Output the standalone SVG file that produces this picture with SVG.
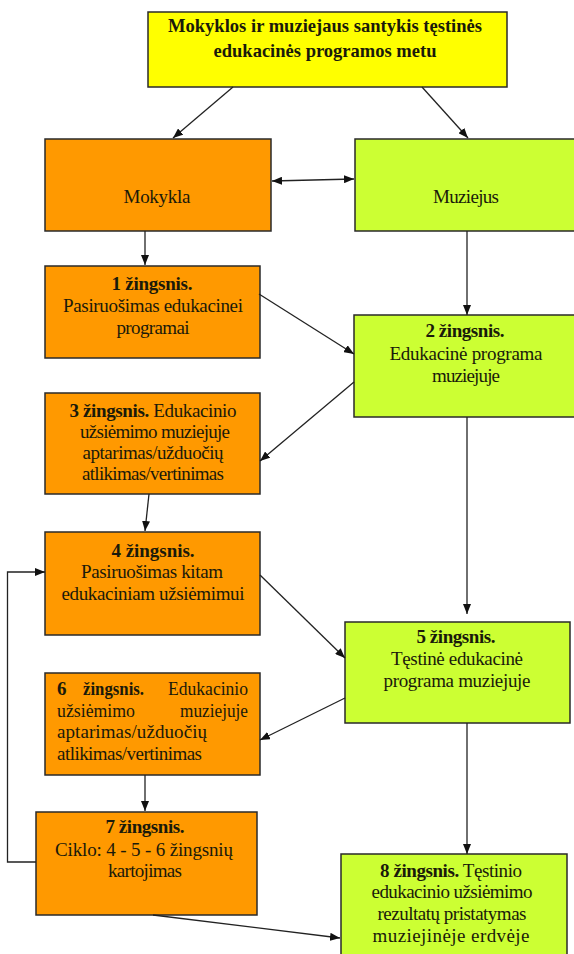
<svg xmlns="http://www.w3.org/2000/svg" width="574" height="954" viewBox="0 0 574 954">
<style>
  .box{stroke:#2a2a2a;stroke-width:1.5}
  .yel{fill:#FFFF00}
  .org{fill:#FF9900}
  .grn{fill:#CCFF33}
  text{font-family:"Liberation Serif","Times New Roman",serif;font-size:19px;fill:#1a1a0a}
  .c{text-anchor:middle}
  .e{text-anchor:end}
  .b{font-weight:bold}
  .ln{stroke:#222;stroke-width:1.3;fill:none}
</style>
<defs>
  <marker id="ah" markerUnits="userSpaceOnUse" markerWidth="10" markerHeight="8" refX="10" refY="4" orient="auto-start-reverse" viewBox="0 0 10 8">
    <path d="M0,0 L10,4 L0,8 z" fill="#111"/>
  </marker>
</defs>

<g id="title">
  <rect class="box yel" x="148" y="12" width="359" height="75"/>
  <text class="c b" x="325" y="32" textLength="314" lengthAdjust="spacingAndGlyphs">Mokyklos ir muziejaus santykis tęstinės</text>
  <text class="c b" x="325" y="57" textLength="223" lengthAdjust="spacingAndGlyphs">edukacinės programos metu</text>
</g>

<g id="mokykla">
  <rect class="box org" x="45" y="139" width="226" height="92"/>
  <text class="c" x="157" y="203" textLength="67" lengthAdjust="spacing">Mokykla</text>
</g>

<g id="muziejus">
  <rect class="box grn" x="355" y="139" width="222" height="92"/>
  <text class="c" x="466" y="203" textLength="66" lengthAdjust="spacing">Muziejus</text>
</g>

<g id="step1">
  <rect class="box org" x="45" y="266" width="215" height="92"/>
  <text class="c b" x="152" y="290" textLength="81" lengthAdjust="spacing">1 žingsnis.</text>
  <text class="c" x="153" y="312" textLength="180" lengthAdjust="spacing">Pasiruošimas edukacinei</text>
  <text class="c" x="153" y="334" textLength="73" lengthAdjust="spacing">programai</text>
</g>

<g id="step2">
  <rect class="box grn" x="354" y="315" width="223" height="102"/>
  <text class="c b" x="465" y="337" textLength="79" lengthAdjust="spacing">2 žingsnis.</text>
  <text class="c" x="466" y="360" textLength="153" lengthAdjust="spacing">Edukacinė programa</text>
  <text class="c" x="466" y="382" textLength="68" lengthAdjust="spacing">muziejuje</text>
</g>

<g id="step3">
  <rect class="box org" x="45" y="393" width="215" height="101"/>
  <text class="c" x="153" y="417" textLength="167" lengthAdjust="spacing"><tspan class="b">3 žingsnis.</tspan> Edukacinio</text>
  <text class="c" x="155" y="438" textLength="150" lengthAdjust="spacing">užsiėmimo muziejuje</text>
  <text class="c" x="153" y="459" textLength="141" lengthAdjust="spacing">aptarimas/užduočių</text>
  <text class="c" x="153" y="480" textLength="142" lengthAdjust="spacing">atlikimas/vertinimas</text>
</g>

<g id="step4">
  <rect class="box org" x="45" y="532" width="215" height="103"/>
  <text class="c b" x="153" y="557" textLength="83" lengthAdjust="spacing">4 žingsnis.</text>
  <text class="c" x="152" y="578" textLength="142" lengthAdjust="spacing">Pasiruošimas kitam</text>
  <text class="c" x="153" y="600" textLength="183" lengthAdjust="spacing">edukaciniam užsiėmimui</text>
</g>

<g id="step5">
  <rect class="box grn" x="345" y="622" width="225" height="101"/>
  <text class="c b" x="456" y="643" textLength="79" lengthAdjust="spacing">5 žingsnis.</text>
  <text class="c" x="457" y="665" textLength="132" lengthAdjust="spacing">Tęstinė edukacinė</text>
  <text class="c" x="457" y="687" textLength="147" lengthAdjust="spacing">programa muziejuje</text>
</g>

<g id="step6">
  <rect class="box org" x="45" y="673" width="215" height="102"/>
  <text class="b" x="57" y="695">6</text>
  <text class="b" x="83" y="695" textLength="61" lengthAdjust="spacingAndGlyphs">žingsnis.</text>
  <text class="e" x="248" y="695" textLength="80" lengthAdjust="spacingAndGlyphs">Edukacinio</text>
  <text x="57" y="717" textLength="78" lengthAdjust="spacingAndGlyphs">užsiėmimo</text>
  <text class="e" x="248" y="717" textLength="68" lengthAdjust="spacingAndGlyphs">muziejuje</text>
  <text x="57" y="738" textLength="150" lengthAdjust="spacing">aptarimas/užduočių</text>
  <text x="57" y="760" textLength="145" lengthAdjust="spacing">atlikimas/vertinimas</text>
</g>

<g id="step7">
  <rect class="box org" x="36" y="812" width="221" height="103"/>
  <text class="c b" x="145" y="833" textLength="79" lengthAdjust="spacing">7 žingsnis.</text>
  <text class="c" x="144" y="856" textLength="178" lengthAdjust="spacing">Ciklo: 4 - 5 - 6 žingsnių</text>
  <text class="c" x="145" y="877" textLength="74" lengthAdjust="spacing">kartojimas</text>
</g>

<g id="step8">
  <rect class="box grn" x="341" y="854" width="226" height="110"/>
  <text class="c" x="451" y="877" textLength="142" lengthAdjust="spacing"><tspan class="b">8 žingsnis.</tspan> Tęstinio</text>
  <text class="c" x="452" y="898" textLength="161" lengthAdjust="spacing">edukacinio užsiėmimo</text>
  <text class="c" x="452" y="920" textLength="149" lengthAdjust="spacing">rezultatų pristatymas</text>
  <text class="c" x="451" y="942" textLength="157" lengthAdjust="spacing">muziejinėje erdvėje</text>
</g>

<g id="connectors">
  <line class="ln" x1="233" y1="87" x2="173" y2="138" marker-end="url(#ah)"/>
  <line class="ln" x1="422" y1="87" x2="468" y2="138" marker-end="url(#ah)"/>
  <line class="ln" x1="272" y1="181" x2="354" y2="179" marker-start="url(#ah)" marker-end="url(#ah)"/>
  <line class="ln" x1="145" y1="231" x2="145" y2="265" marker-end="url(#ah)"/>
  <line class="ln" x1="467" y1="231" x2="467" y2="315" marker-end="url(#ah)"/>
  <line class="ln" x1="259" y1="294" x2="354" y2="354" marker-end="url(#ah)"/>
  <line class="ln" x1="354" y1="382" x2="260" y2="461" marker-end="url(#ah)"/>
  <line class="ln" x1="149" y1="494" x2="145" y2="531" marker-end="url(#ah)"/>
  <line class="ln" x1="467" y1="417" x2="467" y2="614" marker-end="url(#ah)"/>
  <line class="ln" x1="260" y1="575" x2="345" y2="658" marker-end="url(#ah)"/>
  <line class="ln" x1="345" y1="698" x2="260" y2="740" marker-end="url(#ah)"/>
  <line class="ln" x1="145" y1="775" x2="145" y2="811" marker-end="url(#ah)"/>
  <polyline class="ln" points="36,862 7.5,862 7.5,572 45,572" marker-end="url(#ah)"/>
  <line class="ln" x1="467" y1="723" x2="467" y2="854" marker-end="url(#ah)"/>
  <line class="ln" x1="153" y1="915" x2="340" y2="938" marker-end="url(#ah)"/>
</g>
</svg>
